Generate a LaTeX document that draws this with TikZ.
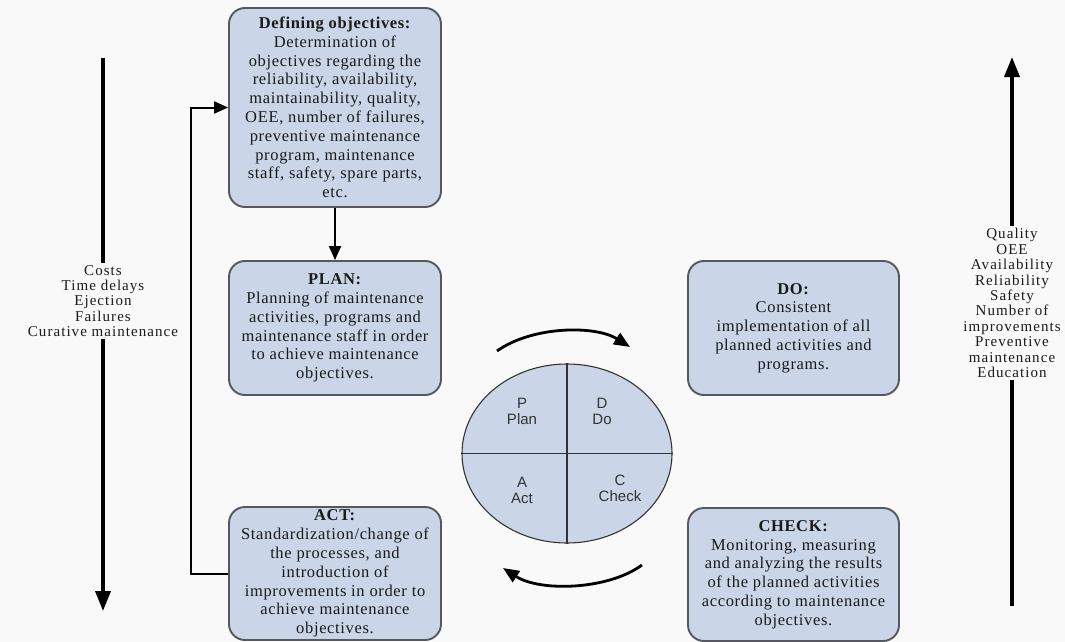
\documentclass[tikz,border=0pt]{standalone}
\usepackage{fontspec}
\setmainfont{Liberation Serif}
\newfontfamily\labelsans{Liberation Sans}
\usetikzlibrary{arrows.meta,shapes.geometric}

\definecolor{paper}{HTML}{F9F9F9}
\definecolor{boxfill}{HTML}{CAD5E8}
\definecolor{boxedge}{HTML}{55585F}
\definecolor{ink}{HTML}{1A1A1A}
\definecolor{cycink}{HTML}{333333}

\begin{document}
\begin{tikzpicture}[x=1pt,y=-1pt,
  stagebox/.style={draw=boxedge, line width=1.9pt, fill=boxfill,
    rounded corners=16pt, minimum width=212pt, align=center, text=ink,
    inner sep=0pt,
    font=\fontsize{16.5}{18.8}\selectfont\addfontfeature{LetterSpace=4}},
  sidetext/.style={align=center, text=ink, inner sep=2pt,
    font=\fontsize{15}{15.4}\selectfont\addfontfeature{LetterSpace=7}},
  quadtext/.style={align=center, text=cycink,
    font=\labelsans\fontsize{15}{16}\selectfont},
  bigarrow/.style={line width=3.6pt, -{Triangle[length=20pt,width=15pt]}},
  flow/.style={line width=2pt, -{Triangle[length=14pt,width=12pt]}},
  cyclearrow/.style={line width=2.8pt, -{Triangle[length=16pt,width=13pt]}}
]
% canvas
\fill[paper] (0,0) rectangle (1065,642);
\useasboundingbox (0,0) rectangle (1065,642);

% stage boxes
\node[stagebox, minimum height=199pt] (def) at (335,107.5)
  {\textbf{Defining objectives:}\\Determination of\\objectives regarding the\\
   reliability, availability,\\maintainability, quality,\\OEE, number of failures,\\
   preventive maintenance\\program, maintenance\\staff, safety, spare parts,\\etc.};
\node[stagebox, minimum height=134pt] (plan) at (335,328)
  {\textbf{PLAN:}\\Planning of maintenance\\activities, programs and\\
   maintenance staff in order\\to achieve maintenance\\objectives.};
\node[stagebox, minimum height=133pt] (act) at (335,573.5)
  {\textbf{ACT:}\\Standardization/change of\\the processes, and\\introduction of\\
   improvements in order to\\achieve maintenance\\objectives.};
\node[stagebox, minimum width=211pt, minimum height=134pt] (do) at (793.5,328)
  {\textbf{DO:}\\Consistent\\implementation of all\\planned activities and\\programs.};
\node[stagebox, minimum width=211pt, minimum height=133pt] (check) at (793.5,574.5)
  {\textbf{CHECK:}\\Monitoring, measuring\\and analyzing the results\\
   of the planned activities\\according to maintenance\\objectives.};

% connectors between stages
\draw[flow] (def.south) -- (plan.north);
\draw[flow] (act.west) -- ++(-37,0) |- (def.west);

% PDCA wheel
\node[ellipse, draw=cycink, line width=1.1pt, fill=boxfill, inner sep=0pt,
      minimum width=210pt, minimum height=179pt] (cyc) at (567,453.5) {};
\draw[cycink, line width=1.1pt] (cyc.north) -- (cyc.south);
\draw[cycink, line width=1.1pt] (cyc.west) -- (cyc.east);
\node[quadtext] (qp) at (522,411) {P\\Plan};
\node[quadtext] (qd) at (602,411) {D\\Do};
\node[quadtext] (qa) at (522,490) {A\\Act};
\node[quadtext] (qc) at (620,488) {C\\Check};

% rotation arrows around the wheel
\coordinate (topfrom) at (497,351);
\coordinate (topto) at (630,347);
\coordinate (botfrom) at (642,565);
\coordinate (botto) at (503,568);
\draw[cyclearrow] (topfrom) .. controls (532,326) and (595,325) .. (topto);
\draw[cyclearrow] (botfrom) .. controls (608,590) and (540,592) .. (botto);

% negative indicators (decreasing)
\node[sidetext] (neg) at (103,301)
  {Costs\\Time delays\\Ejection\\Failures\\Curative maintenance};
\coordinate (negtop) at (103,58);
\coordinate (negend) at (103,611);
\draw[line width=3.6pt] (negtop) -- (neg.north);
\draw[bigarrow] (neg.south) -- (negend);

% positive indicators (increasing)
\node[sidetext] (pos) at (1012,303)
  {Quality\\OEE\\Availability\\Reliability\\Safety\\Number of\\improvements\\
   Preventive\\maintenance\\Education};
\coordinate (posend) at (1012,57);
\coordinate (posbase) at (1012,606);
\draw[line width=3.6pt] (posbase) -- (pos.south);
\draw[bigarrow] (pos.north) -- (posend);
\end{tikzpicture}
\end{document}
